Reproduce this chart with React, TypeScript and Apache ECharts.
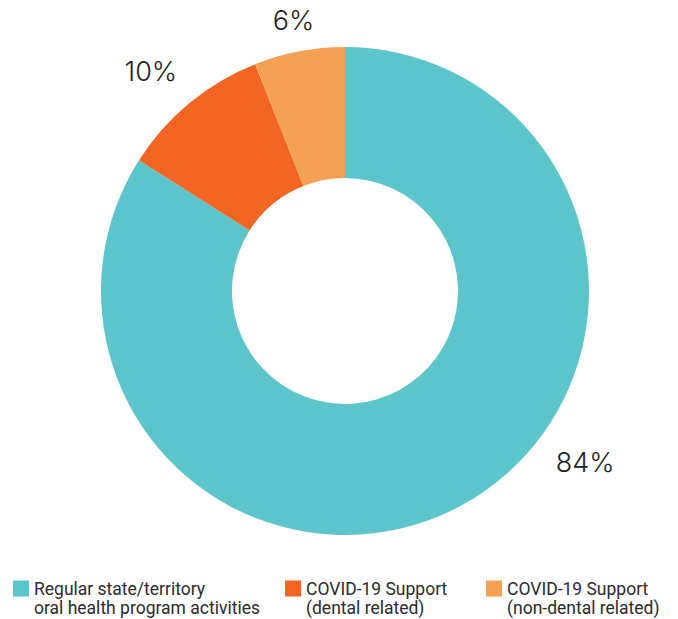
import React, { useEffect, useRef } from "react";
import * as echarts from "echarts";

const categories = [
  "Regular state/territory\noral health program activities",
  "COVID-19 Support\n(dental related)",
  "COVID-19 Support\n(non-dental related)",
];
const values = [84, 10, 6];
const colors = ["#5BC5CB", "#F26522", "#F4A155"];

export default function App() {
  const ref = useRef<HTMLDivElement>(null);
  useEffect(() => {
    if (!ref.current) return;
    const chart = echarts.init(ref.current, null, { renderer: "svg" });
    const cx = 345;
    const cy = 291;
    const total = values.reduce((a, b) => a + b, 0);
    const mids: number[] = [];
    let acc = 0;
    values.forEach((v) => {
      mids.push(((acc + v / 2) / total) * 360);
      acc += v;
    });
    // label placement tweaks (style)
    const angleOverride: (number | null)[] = [125.5, 318.5, null];
    const labelR = [295, 293, 275];
    const legendLeft = [13, 285, 486];
    const lh = 19;
    const icon =
      "path://M0,1.5L16,1.5L16,17.5L0,17.5Z M0,0L0.01,0L0,0Z M0,38L0.01,38L0,38Z";
    chart.setOption({
      animation: false,
      color: colors,
      legend: categories.map((c, i) => ({
        data: [{ name: c, icon }],
        left: legendLeft[i],
        top: 579,
        padding: 0,
        orient: "horizontal",
        itemWidth: 16,
        itemHeight: lh * 2,
        itemGap: 5,
        selectedMode: false,
        textStyle: {
          fontFamily: "Roboto",
          fontSize: 17.5,
          lineHeight: lh,
          color: "#2b2b2b",
        },
      })),
      series: [
        {
          type: "pie",
          center: [cx, cy],
          radius: [113, 244],
          startAngle: 90,
          clockwise: true,
          data: categories.map((c, i) => ({ name: c, value: values[i] })),
          label: {
            show: true,
            position: "outside",
            formatter: (p: any) => p.value + "%",
            fontFamily: "Inter",
            fontWeight: 300,
            fontSize: 27,
            color: "#231f20",
          },
          labelLine: { show: false },
          labelLayout: (p: any) => {
            const i = p.dataIndex;
            const a = angleOverride[i] ?? mids[i];
            const rad = (a * Math.PI) / 180;
            return {
              x: cx + labelR[i] * Math.sin(rad),
              y: cy - labelR[i] * Math.cos(rad),
              align: "center",
              verticalAlign: "middle",
            };
          },
          emphasis: { disabled: true },
        },
      ],
    });
    return () => chart.dispose();
  }, []);
  return (
    <div
      ref={ref}
      style={{ position: "absolute", left: 0, top: 0, width: 678, height: 619 }}
    />
  );
}
